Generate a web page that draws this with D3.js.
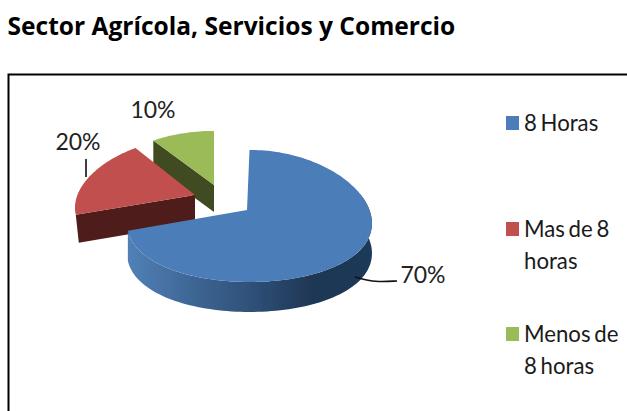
<!DOCTYPE html>
<html><head><meta charset="utf-8">
<script src="https://cdn.jsdelivr.net/npm/d3@7/dist/d3.min.js"></script>
<style>html,body{margin:0;padding:0;background:#fff}svg{display:block}text{font-family:Lato,"Open Sans",sans-serif;fill:#1a1a1a}</style>
</head><body><div id="c"></div>
<script>
const titleText = "Sector Agrícola, Servicios y Comercio";
const categories = ["8 Horas", "Mas de 8 horas", "Menos de 8 horas"];
const values = [70, 20, 10];
const legendLines = [["8 Horas"], ["Mas de 8", "horas"], ["Menos de", "8 horas"]];
const colors = ["#4c7db9", "#c0504d", "#9bbb59"];
const wallColors = ["#2d4d75", "#4f1c1b", "#3f4b20"];

const W = 627, H = 411;
const svg = d3.select("#c").append("svg").attr("width", W).attr("height", H);
const defs = svg.append("defs");
defs.append("filter").attr("id","soft").append("feGaussianBlur").attr("stdDeviation",0.45);
const grad = defs.append("linearGradient").attr("id","wall").attr("gradientUnits","userSpaceOnUse")
  .attr("x1",129).attr("x2",372).attr("y1",0).attr("y2",0);
[[0,"#5080b6"],[.25,"#3f6796"],[.5,"#2f5179"],[.75,"#1f3754"],[1,"#1f3a58"]].forEach(s=>grad.append("stop").attr("offset",s[0]).attr("stop-color",s[1]));

svg.append("text").attr("x",7.5).attr("y",35).attr("font-size",24.55).attr("font-weight",700)
  .style("font-family","'Open Sans',sans-serif").style("fill","#000").text(titleText);
svg.append("path").attr("d",`M8.5 ${H}V74.5H${W}`).attr("fill","none").attr("stroke","#000").attr("stroke-width",2);

const g = svg.append("g").attr("filter","url(#soft)");
const pie = d3.pie().sort(null).value(d=>d);
const arcs = pie(values);
const layout = [
  {cx:247,cy:210,rimDx:2.5,sx:1,sy:1,depth:30,slant:0},
  {cx:195,cy:195,rimDx:0,sx:.98,sy:.95,depth:28,slant:3},
  {cx:214,cy:185,rimDx:0,sx:1,sy:.9,depth:27,slant:0}
];
const RX=120, RY=65.5, KX=.2, KY=.09;
function project(i,t,dz=0){
  const l=layout[i],u=Math.sin(t),v=-Math.cos(t);
  return [l.cx+l.rimDx+RX*l.sx*u/(1-KX*v), l.cy+RY*l.sy*v/(1-KY*v)+dz];
}
const line=d3.line();
function rimPts(i,a0,a1,dz=0){
  const n=Math.max(2,Math.ceil(Math.abs(a1-a0)/0.03));
  return d3.range(n+1).map(k=>project(i,a0+(a1-a0)*k/n,dz));
}
const apex=(i,dz=0)=>[layout[i].cx,layout[i].cy+dz];

function drawSlice(i){
  const a=arcs[i], d=layout[i].depth;
  if(i===0){
    const a0=Math.PI*.42;
    const pts=rimPts(i,a0,a.endAngle,0).concat(rimPts(i,a.endAngle,a0,d));
    g.append("path").attr("d",line(pts)+"Z").attr("fill","url(#wall)");
  } else {
    const p=project(i,a.startAngle);
    const pts=[apex(i),p,[p[0]+layout[i].slant,p[1]+d],apex(i,d)];
    g.append("path").attr("d",line(pts)+"Z").attr("fill",wallColors[i]);
  }
  g.append("path").attr("d",line([apex(i),...rimPts(i,a.startAngle,a.endAngle)])+"Z").attr("fill",colors[i]);
}
drawSlice(2);drawSlice(1);drawSlice(0);

svg.append("path").attr("d",line([[86,159],[86,177]])).attr("stroke","#111").attr("stroke-width",1.6).attr("fill","none");
svg.append("path").attr("d",line.curve(d3.curveBasis)([[355,277],[365,280],[378,282],[397,281]])).attr("stroke","#111").attr("stroke-width",1.6).attr("fill","none");
line.curve(d3.curveLinear);

const labelPos=[[423,283],[78,150],[153,118]];
svg.selectAll("text.lab").data(values).join("text").attr("class","lab")
  .attr("x",(d,i)=>labelPos[i][0]).attr("y",(d,i)=>labelPos[i][1]).attr("text-anchor","middle")
  .attr("font-size",23).style("fill","#222").text(d=>d+"%");

const legendY=[116,222,327];
legendLines.forEach((ls,i)=>{
  svg.append("rect").attr("x",506).attr("y",legendY[i]).attr("width",13).attr("height",14).attr("fill",colors[i]);
  ls.forEach((t,j)=>svg.append("text").attr("x",524).attr("y",legendY[i]+15+j*32).attr("font-size",22.2).style("word-spacing","-2px").text(t));
});
</script></body></html>
